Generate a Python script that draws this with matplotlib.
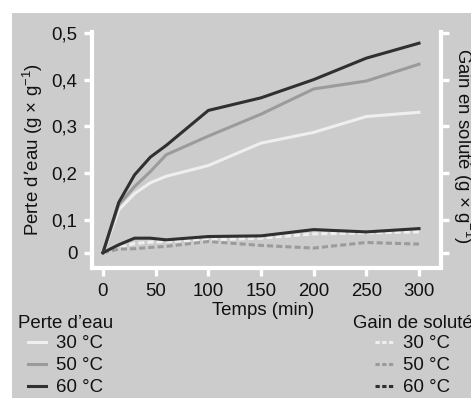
import numpy as np
import matplotlib
matplotlib.use("Agg")
import matplotlib.pyplot as plt
from matplotlib.lines import Line2D
from matplotlib.patches import Rectangle

plt.rcParams['font.family'] = ['Liberation Sans', 'DejaVu Sans']
plt.rcParams['mathtext.default'] = 'regular'

# ---- data ----
time_min = [0, 15, 30, 45, 60, 100, 150, 200, 250, 300]
temps_labels = ["30 °C", "50 °C", "60 °C"]
loss_30 = [0, 0.121, 0.156, 0.179, 0.193, 0.216, 0.264, 0.287, 0.321, 0.330]
loss_50 = [0, 0.132, 0.171, 0.203, 0.239, 0.279, 0.326, 0.380, 0.397, 0.433]
loss_60 = [0, 0.137, 0.196, 0.234, 0.259, 0.334, 0.361, 0.400, 0.446, 0.478]
gain_30 = [0, 0.015, 0.028, 0.032, 0.034, 0.039, 0.044, 0.057, 0.060, 0.063]
gain_50 = [0, 0.011, 0.012, 0.016, 0.019, 0.034, 0.022, 0.014, 0.031, 0.026]
gain_60 = [0, 0.024, 0.044, 0.044, 0.039, 0.049, 0.051, 0.070, 0.063, 0.073]
x_ticks = [0, 50, 100, 150, 200, 250, 300]
y_ticks = [0, 0.1, 0.2, 0.3, 0.4, 0.5]
y_ticklabels = ["0", "0,1", "0,2", "0,3", "0,4", "0,5"]

colors = ["#efefef", "#9b9b9b", "#303030"]
BG = "#cccccc"
FS = 13.4
LW = 2.2
TXT = '#111111'

W, H = 471, 398
fig = plt.figure(figsize=(W / 100, H / 100), dpi=100, facecolor="white")
fig.patches.append(Rectangle((12 / W, 0), 1 - 12 / W, 1 - 13 / H,
                             transform=fig.transFigure, facecolor=BG,
                             edgecolor="none", zorder=-10))

left, right, bottom, top = 92, 441, 268, 32
ax = fig.add_axes([left / W, 1 - bottom / H, (right - left) / W, (bottom - top) / H])
ax.set_facecolor(BG)


def fwd(v):
    v = np.asarray(v, dtype=float)
    return np.where(v < 0.1, v * 330.0, 33.0 + (v - 0.1) * 467.0)


def inv(u):
    u = np.asarray(u, dtype=float)
    return np.where(u < 33.0, u / 330.0, 0.1 + (u - 33.0) / 467.0)


ax.set_yscale('function', functions=(fwd, inv))

for vals, c in zip([loss_30, loss_50, loss_60], colors):
    ax.plot(time_min, vals, color=c, lw=LW)
ax.plot(time_min, gain_30, color=colors[0], lw=LW, linestyle=(0, (2, 1)))
ax.plot(time_min, gain_50, color=colors[1], lw=LW, linestyle=(0, (2, 1)))
ax.plot(time_min, gain_60, color=colors[2], lw=LW, linestyle='-')

ax.set_xlim(-10.4, 320.9)
ax.set_ylim(-0.0464, 0.502)
ax.set_xticks(x_ticks)
ax.set_xticklabels([str(v) for v in x_ticks])
ax.set_yticks(y_ticks)
ax.set_yticklabels(y_ticklabels)
ax.minorticks_off()

for s in ['left', 'right', 'bottom']:
    ax.spines[s].set_color('white')
    ax.spines[s].set_linewidth(3)
ax.spines['top'].set_visible(False)

ax.tick_params(axis='both', direction='out', length=5.5, width=2.4,
               color='white', labelsize=FS, labelcolor=TXT, pad=5.0)
ax.tick_params(axis='y', right=True, labelright=False)

ax.set_xlabel("Temps (min)", fontsize=FS, color=TXT)
ax.xaxis.set_label_coords(0.49, -0.145)
ax.set_ylabel("Perte d’eau (g × g$^{-1}$)", fontsize=FS, color=TXT)
ax.yaxis.set_label_coords(-0.135, 0.5)

fig.text(463 / W, 1 - 146 / H, "Gain en soluté (g × g$^{-1}$)", rotation=270,
         ha='center', va='center', fontsize=FS, color=TXT)

# legends
fig.text(18 / W, 1 - 323 / H, "Perte d’eau", ha='left', va='center', fontsize=FS, color=TXT)
fig.text(353 / W, 1 - 323 / H, "Gain de soluté", ha='left', va='center', fontsize=FS, color=TXT)

h_loss = [Line2D([], [], color=c, lw=LW) for c in colors]
h_gain = [Line2D([], [], color=c, lw=LW, linestyle=(0, (1.4, 0.8))) for c in colors]
leg_kw = dict(loc='upper left', frameon=False, borderpad=0, borderaxespad=0,
              handlelength=0.95, handletextpad=0.55, labelspacing=0.27, fontsize=FS,
              labelcolor=TXT)
fig.legend(h_loss, temps_labels, bbox_to_anchor=(28 / W, 1 - 335 / H), **leg_kw)
fig.legend(h_gain, temps_labels, bbox_to_anchor=(375 / W, 1 - 335 / H), **leg_kw)

fig.savefig("out.png", dpi=100, facecolor="white")
